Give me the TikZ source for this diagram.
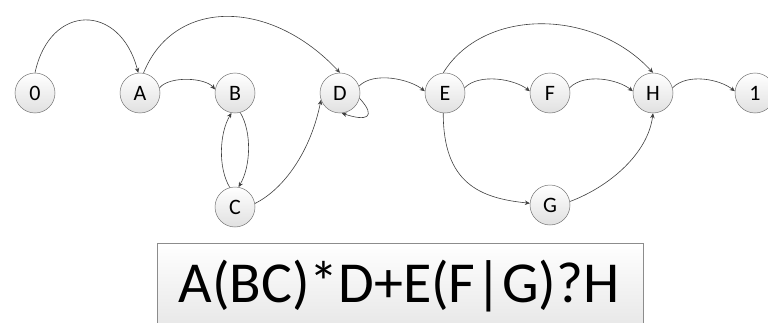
\documentclass[tikz,border=0pt]{standalone}
\usepackage{fontspec}
\setmainfont{Carlito}
\usetikzlibrary{arrows.meta}
\begin{document}
\begin{tikzpicture}[x=1pt,y=1pt,
  st/.style={circle,draw=black!55,line width=0.5pt,minimum size=40pt,inner sep=0pt,
    top color=white,bottom color=black!12,font=\fontsize{22}{22}\selectfont},
  edge/.style={-{Stealth[length=5pt,width=4.5pt]},draw=black!75,line width=0.6pt}]
\useasboundingbox (0,0) rectangle (768,322);
\begin{scope}
\clip (0,0) rectangle (768,322);
\node[draw=black!45,line width=0.6pt,top color=white,bottom color=black!10,
  minimum width=486pt,minimum height=90pt,anchor=north west] (box) at (157,79) {};
\node[font=\fontsize{58}{58}\selectfont,anchor=base] (expr) at (399,20) {A(BC)*D+E(F|G)?H};
\node[st] (n0) at (35,229) {0};
\node[st] (nA) at (140,229) {A};
\node[st] (nB) at (235,229) {B};
\node[st] (nC) at (235,115) {C};
\node[st] (nD) at (340,229) {D};
\node[st] (nE) at (445,229) {E};
\node[st] (nF) at (550,229) {F};
\node[st] (nG) at (550,117) {G};
\node[st] (nH) at (653,229) {H};
\node[st] (n1) at (755,229) {1};
\end{scope}
\draw[edge] (n0.north) .. controls +(15,70) and +(-18,70) .. (nA.95);
\draw[edge] (nA.80) .. controls +(30,75) and +(-70,75) .. (nD.90);
\draw[edge] (nA.15) .. controls +(10,12) and +(-10,12) .. (nB.170);
\draw[edge] (nB.-75) .. controls +(12,-20) and +(12,20) .. (nC.80);
\draw[edge] (nC.105) .. controls +(-12,20) and +(-12,-20) .. (nB.-100);
\draw[edge] (nC.10) .. controls +(30,15) and +(-10,-50) .. (nD.-160);
\draw[edge] (nD.-15) .. controls +(18,-20) and +(24,-8) .. (nD.-85);
\draw[edge] (nD.20) .. controls +(15,15) and +(-15,12) .. (nE.175);
\draw[edge] (nE.15) .. controls +(15,15) and +(-15,12) .. (nF.175);
\draw[edge] (nF.15) .. controls +(15,15) and +(-15,12) .. (nH.175);
\draw[edge] (nH.15) .. controls +(15,15) and +(-15,12) .. (n1.175);
\draw[edge] (nE.95) .. controls +(40,65) and +(-60,65) .. (nH.90);
\draw[edge] (nE.-95) .. controls +(0,-70) and +(-50,5) .. (nG.175);
\draw[edge] (nG.10) .. controls +(40,15) and +(-5,-40) .. (nH.-90);
\end{tikzpicture}
\end{document}
